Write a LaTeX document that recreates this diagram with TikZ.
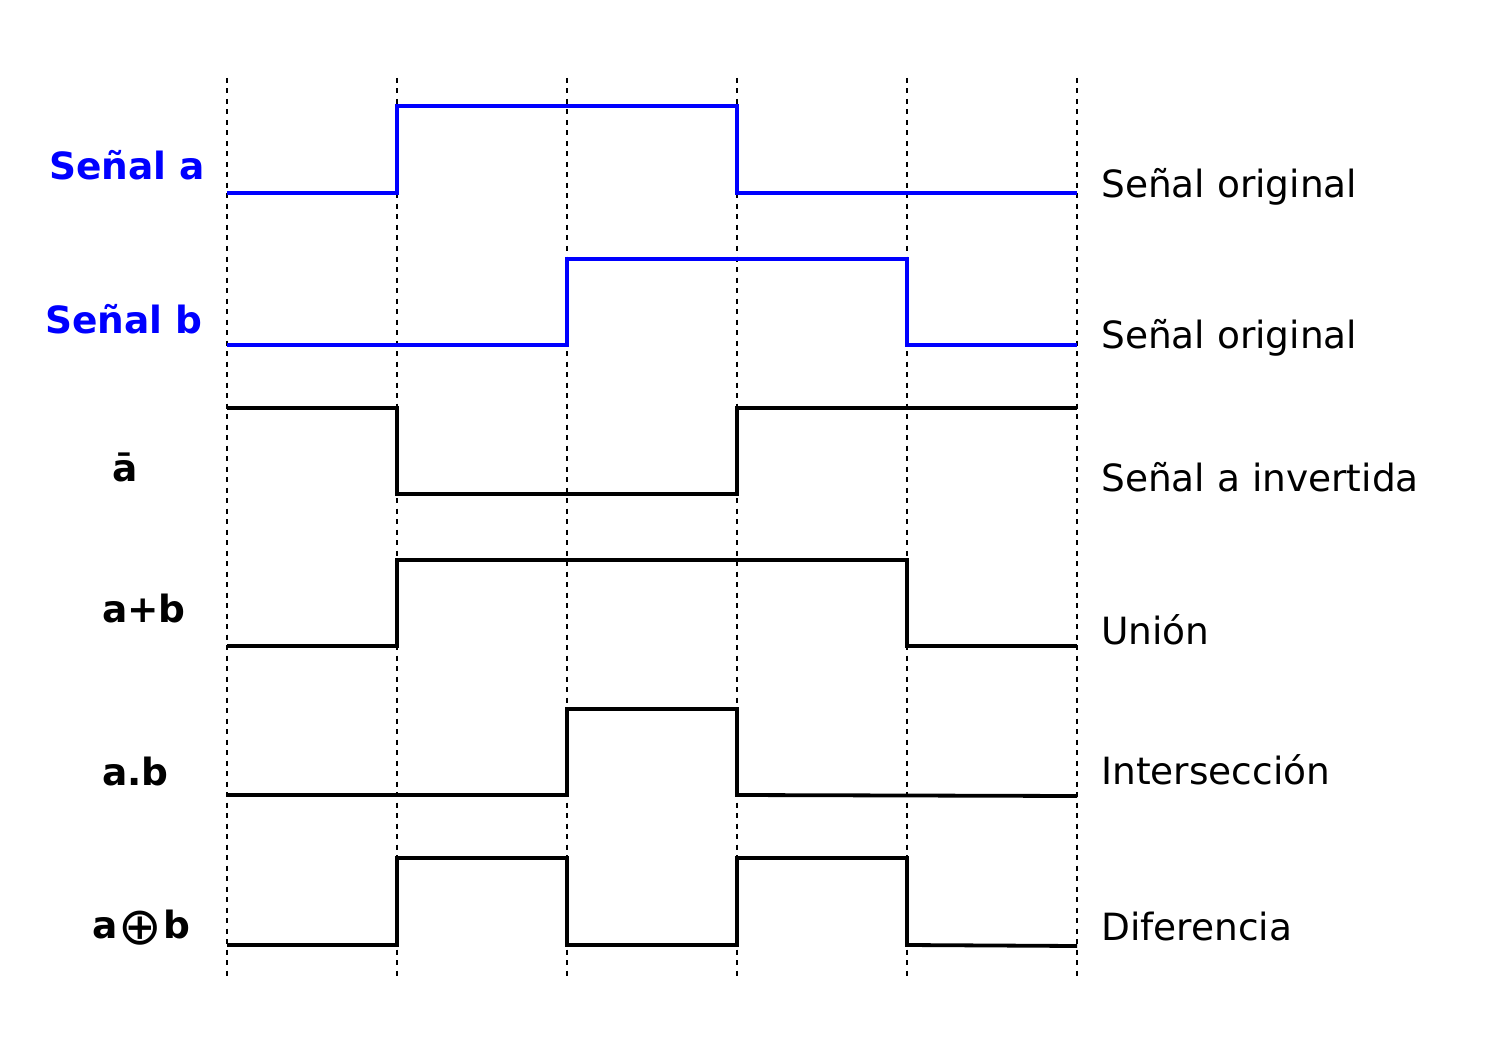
\documentclass[tikz,border=0pt]{standalone}
\usepackage{fontspec}
\setmainfont{DejaVu Sans}
\begin{document}
\begin{tikzpicture}[x=1pt,y=-1pt,
  grid/.style={line width=1.6pt,dash pattern=on 5pt off 5.5pt,black},
  sigblue/.style={line width=4.2pt,blue!100,line join=miter},
  sigblack/.style={line width=3.8pt,black,line join=miter},
  lbl/.style={font=\fontsize{37.5}{45}\selectfont\bfseries,anchor=base west,inner sep=0pt},
  rlbl/.style={font=\fontsize{37.5}{45}\selectfont,anchor=base west,inner sep=0pt}]
\useasboundingbox (0,0) rectangle (1503,1059);
% grid lines
\foreach \x in {227,397,567,737,907,1077}
  \draw[grid] (\x,78) -- (\x,980);
% signal a
\draw[sigblue] (227,193) -- (397,193) -- (397,106) -- (737,106) -- (737,193) -- (1077,193);
% signal b
\draw[sigblue] (227,345) -- (567,345) -- (567,259) -- (907,259) -- (907,345) -- (1077,345);
% not a
\draw[sigblack] (227,408) -- (397,408) -- (397,494) -- (737,494) -- (737,408) -- (1077,408);
% a+b
\draw[sigblack] (227,646) -- (397,646) -- (397,560) -- (907,560) -- (907,646) -- (1077,646);
% a.b
\draw[sigblack] (227,795) -- (567,795) -- (567,709) -- (737,709) -- (737,795) -- (1077,796);
% a xor b
\draw[sigblack] (227,945) -- (397,945) -- (397,858) -- (567,858) -- (567,945) -- (737,945) -- (737,858) -- (907,858) -- (907,945) -- (1077,946);
% left labels
\node[lbl,text=blue] (la) at (49,180) {Señal a};
\node[lbl,text=blue] (lb) at (45,333) {Señal b};
\node[lbl] (lna) at (112,481) {ā};
\node[lbl] (lor) at (102,622) {a+b};
\node[lbl] (land) at (102,785) {a.b};
\node[lbl] (lxor) at (92,938) {a\hspace{1pt}\raisebox{-6pt}{\mdseries\fontsize{52}{52}\selectfont ⊕}\hspace{1pt}b};
% right labels
\node[rlbl] (r1) at (1101,198) {Señal original};
\node[rlbl] (r2) at (1101,348) {Señal original};
\node[rlbl] (r3) at (1101,491) {Señal a invertida};
\node[rlbl] (r4) at (1101,644) {Unión};
\node[rlbl] (r5) at (1101,784) {Intersección};
\node[rlbl] (r6) at (1101,940) {Diferencia};
\end{tikzpicture}
\end{document}
